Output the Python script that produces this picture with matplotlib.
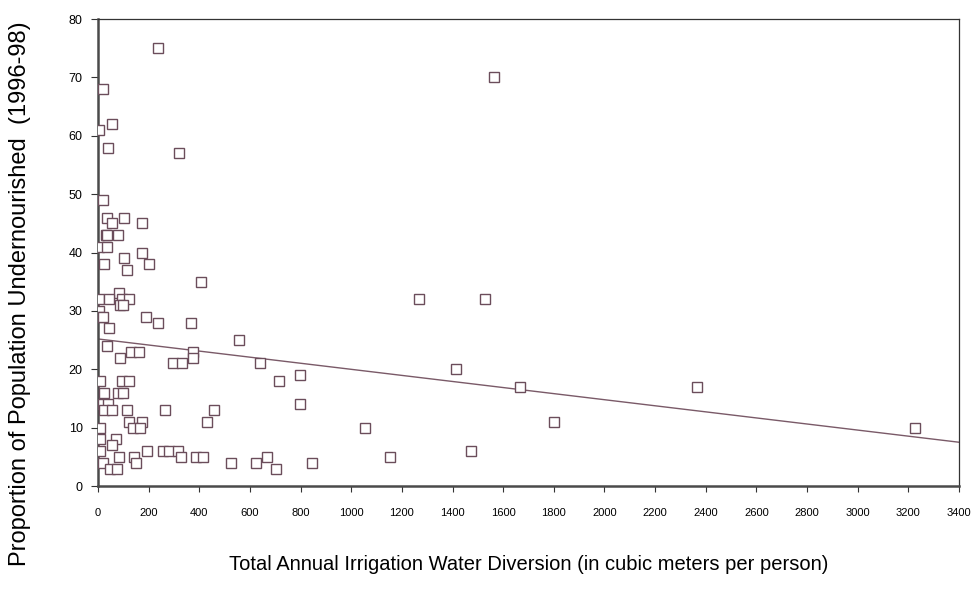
import matplotlib
matplotlib.use("Agg")
import matplotlib.pyplot as plt

# irrigation water diversion (m3 per person) vs % undernourished
water = [236, 1565, 20, 55, 4, 41, 321, 21,
         34, 103, 57, 175, 30, 36, 80, 4, 34, 175, 103, 24, 200, 113, 408,
         82, 4, 45, 94, 123, 1267, 1527, 87, 100, 4, 4, 18, 190, 237, 368, 45,
         555, 34, 131, 160, 377, 87, 377, 298, 330, 638, 1413, 799,
         8, 94, 124, 716, 1668, 2365, 25, 80, 100, 18, 41, 799,
         25, 57, 113, 263, 460, 124, 175, 430, 1802,
         8, 138, 166, 1054, 3228, 8, 71, 56,
         8, 195, 255, 281, 317, 1471, 81, 144, 327, 387, 416, 669, 1153,
         21, 150, 524, 623, 847, 48, 77, 702]
undernourished = [75, 70, 68, 62, 61, 58, 57, 49,
                  46, 46, 45, 45, 43, 43, 43, 41, 41, 40, 39, 38, 38, 37, 35,
                  33, 32, 32, 32, 32, 32, 32, 31, 31, 30, 29, 29, 29, 28, 28, 27,
                  25, 24, 23, 23, 23, 22, 22, 21, 21, 21, 20, 19,
                  18, 18, 18, 18, 17, 17, 16, 16, 16, 14, 14, 14,
                  13, 13, 13, 13, 13, 11, 11, 11, 11,
                  10, 10, 10, 10, 10, 8, 8, 7,
                  6, 6, 6, 6, 6, 6, 5, 5, 5, 5, 5, 5, 5,
                  4, 4, 4, 4, 4, 3, 3, 3]

# linear trend as drawn in the original
trend_x = [0, 3400]
trend_y = [25.2, 7.5]

plt.rcParams['font.family'] = ['Liberation Sans', 'DejaVu Sans']

fig = plt.figure(figsize=(9.76, 5.94), dpi=100)
ax = fig.add_axes([0.1004, 0.1818, 0.8822, 0.786])

mark_col = '#6b4d5b'
ax.plot(water, undernourished, linestyle='none', marker='s', markersize=6.5,
        markerfacecolor='white', markeredgecolor=mark_col, markeredgewidth=1.0,
        zorder=3)
ax.plot(trend_x, trend_y, color='#7a5a68', linewidth=1.0, zorder=2)

ax.set_xlim(0, 3400)
ax.set_ylim(0, 80)
ax.set_xticks(range(0, 3401, 200))
ax.set_yticks(range(0, 81, 10))
ax.tick_params(axis='x', labelsize=8, length=4, pad=12, color='#333333')
ax.tick_params(axis='y', labelsize=9, length=5, pad=6, color='#333333')

for side in ['top', 'right']:
    ax.spines[side].set_linewidth(0.9)
    ax.spines[side].set_color('#333333')
for side in ['left', 'bottom']:
    ax.spines[side].set_linewidth(1.8)
    ax.spines[side].set_color('#4a4a4a')

fig.text(0.02, 0.505, 'Proportion of Population Undernourished  (1996-98)',
         rotation=90, ha='center', va='center', fontsize=17)
fig.text(0.542, 0.049,
         'Total Annual Irrigation Water Diversion (in cubic meters per person)',
         ha='center', va='center', fontsize=14.5)

fig.savefig('out.png', dpi=100)
